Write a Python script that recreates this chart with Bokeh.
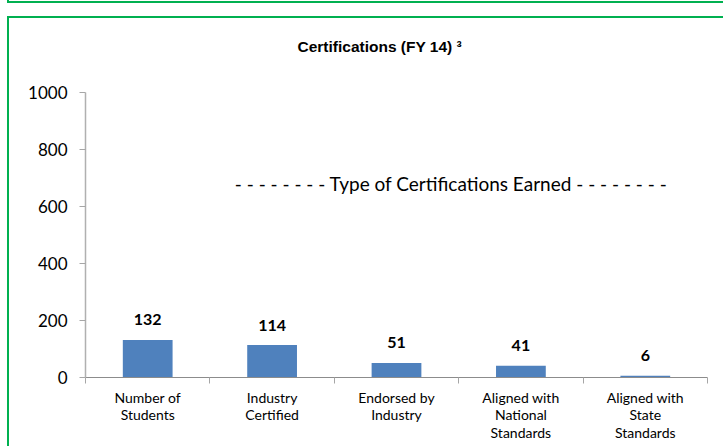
from bokeh.plotting import figure
from bokeh.models import (Range1d, LinearAxis, FixedTicker, Label, Title, InlineStyleSheet)
from bokeh.core.properties import value
from bokeh.embed import file_html
from bokeh.resources import INLINE

categories = ["Number of\nStudents", "Industry\nCertified", "Endorsed by\nIndustry",
              "Aligned with\nNational\nStandards", "Aligned with\nState\nStandards"]
counts = [132, 114, 51, 41, 6]
y_ticks = [0, 200, 400, 600, 800, 1000]
title_text = "Certifications (FY 14) \u00b3"
note_text = "- - - - - - - - Type of Certifications Earned - - - - - - - -"

centers = [i + 0.5 for i in range(len(categories))]
bounds = list(range(len(categories) + 1))

green = "#00B050"
css = f"""
:host {{
  background-color: white;
  background-image: linear-gradient({green},{green}), linear-gradient({green},{green}),
                    linear-gradient({green},{green}), linear-gradient({green},{green});
  background-size: 2px 440px, 730px 2px, 730px 2px, 2px 3px;
  background-position: 7px 16px, 7px 16px, 7px 1px, 7px 0px;
  background-repeat: no-repeat;
}}
"""

p = figure(frame_width=622, frame_height=285, output_backend="svg", toolbar_location=None,
           x_range=Range1d(0, len(categories)), y_range=Range1d(0, 1000),
           x_axis_type=None, y_axis_type=None,
           min_border_left=85, min_border_right=16, min_border_top=92, min_border_bottom=69,
           stylesheets=[InlineStyleSheet(css=css)])
p.outline_line_color = None
p.background_fill_color = "white"
p.border_fill_color = None

# blank spacer title, sits between the real title and the frame
p.add_layout(Title(text="\u00a0", text_font_size="18.5px", text_color="white"), "above")

p.title = Title(text=title_text, align="left", offset=212,
                text_font="Liberation Sans", text_font_size="15.5px", text_font_style="bold",
                text_color="#000000")

yaxis = LinearAxis(ticker=FixedTicker(ticks=y_ticks, minor_ticks=[]))
yaxis.axis_line_color = "#B0B0B0"
yaxis.axis_line_width = 1.5
yaxis.major_tick_line_color = "#A6A6A6"
yaxis.major_tick_in = 0
yaxis.major_tick_out = 6
yaxis.minor_tick_line_color = None
yaxis.major_label_text_font = "Lato"
yaxis.major_label_text_font_size = "17px"
yaxis.major_label_text_color = "#000000"
yaxis.major_label_standoff = 12
p.add_layout(yaxis, "left")

xaxis = LinearAxis(ticker=FixedTicker(ticks=centers, minor_ticks=bounds))
xaxis.major_label_overrides = {c: lab for c, lab in zip(centers, categories)}
xaxis.axis_line_color = "#8C8C8C"
xaxis.major_tick_line_color = None
xaxis.major_tick_in = 0
xaxis.major_tick_out = 0
xaxis.minor_tick_line_color = "#A6A6A6"
xaxis.minor_tick_in = 0
xaxis.minor_tick_out = 6
xaxis.major_label_text_font = "Lato"
xaxis.major_label_text_font_size = "14px"
xaxis.major_label_text_color = "#000000"
xaxis.major_label_text_line_height = 1.05
xaxis.major_label_standoff = 5
p.add_layout(xaxis, "below")

p.ygrid.ticker = FixedTicker(ticks=y_ticks[1:])
p.ygrid.grid_line_color = "#888888"
p.xgrid.grid_line_color = None

p.vbar(x=centers, top=counts, width=0.4, fill_color="#4F81BD", line_color=None)
p.text(x=centers, y=counts, text=[str(c) for c in counts], y_offset=-20,
       text_align="center", text_baseline="middle", text_font=value("Lato"),
       text_font_size="16px", text_font_style="bold", text_color="#000000")

p.add_layout(Label(x=2.94, y=680, text=note_text, text_align="center", text_baseline="middle",
                   text_font="Lato", text_font_size="19px", text_color="#000000"))

open("out.html", "w").write(file_html(p, INLINE))
